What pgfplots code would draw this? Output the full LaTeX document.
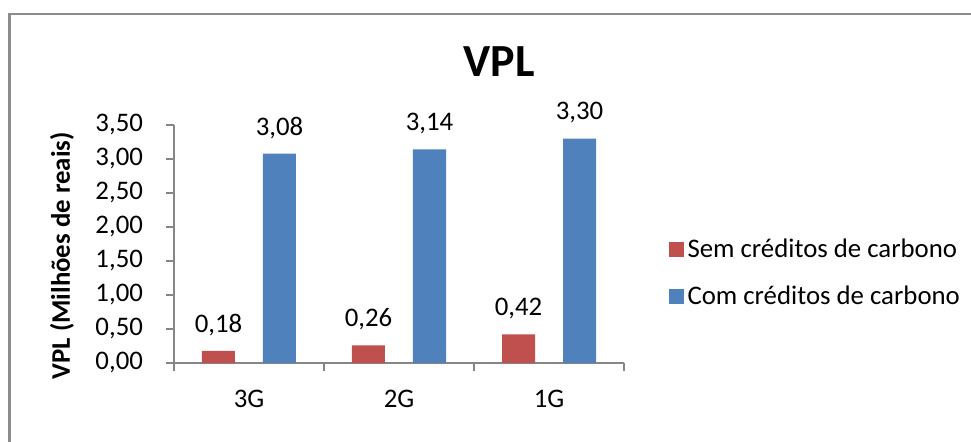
\documentclass[border=0pt]{standalone}
\usepackage{pgfplots}
\pgfplotsset{compat=1.18}
\usepackage{fontspec}
\setmainfont{Carlito}
\definecolor{exred}{HTML}{C0504D}
\definecolor{exblue}{HTML}{4F81BD}
\definecolor{framegray}{HTML}{8C8C8C}
\definecolor{axgray}{HTML}{868686}
\pgfkeys{/pgf/number format/.cd, fixed, fixed zerofill, precision=2, use comma, assume math mode=true}
\newcommand{\bodyfont}{\fontsize{13.4}{16}\selectfont}
\begin{document}
\begin{tikzpicture}
\useasboundingbox (0,0) rectangle (485.5pt,220.5pt);
\clip (0,0) rectangle (485.5pt,220.5pt);
\draw[framegray, line width=1.2pt] (4.75pt,-20pt) -- (4.75pt,213.5pt) -- (500pt,213.5pt);
\node[font=\fontsize{23}{27}\selectfont\bfseries] at (249.5pt,189.5pt) {VPL};
\begin{axis}[
  at={(87pt,39pt)}, anchor=south west,
  scale only axis, width=225pt, height=119pt,
  ybar=14pt, bar width=16.5pt,
  xmin=-0.5, xmax=2.5, ymin=0, ymax=3.5,
  axis x line=bottom, axis y line=left,
  axis line style={draw=axgray, line width=0.7pt, -},
  xtick={-0.5,0.5,1.5,2.5}, xticklabels={3G,2G,1G,{}},
  ytick={0,0.5,1,1.5,2,2.5,3,3.5},
  scaled y ticks=false,
  tick align=outside, major tick length=4pt,
  tick style={draw=axgray, line width=0.7pt},
  ticklabel style={font=\bodyfont},
  xticklabel style={xshift=37.5pt, anchor=center, yshift=-14pt},
  yticklabel style={anchor=east, xshift=-8pt},
  ylabel={VPL (Milhões de reais)},
  ylabel style={font=\bodyfont\bfseries, at={(axis description cs:-0.249,0.45)}, anchor=center},
  nodes near coords,
  nodes near coords style={font=\bodyfont, anchor=center, yshift=13pt, text=black},
  legend style={draw=none, fill=none, at={(axis description cs:1.098,0.378)}, anchor=west,
    font=\bodyfont, row sep=9pt, inner sep=0pt},
  legend cell align=left,
]
\addplot[fill=exred, draw=none, legend image code/.code={\fill[exred] (0pt,-3.75pt) rectangle (7.5pt,3.75pt);}]
  coordinates {(0,0.18) (1,0.26) (2,0.42)};
\addplot[fill=exblue, draw=none, legend image code/.code={\fill[exblue] (0pt,-3.75pt) rectangle (7.5pt,3.75pt);}]
  coordinates {(0,3.08) (1,3.14) (2,3.30)};
\legend{Sem créditos de carbono, Com créditos de carbono}
\end{axis}
\end{tikzpicture}
\end{document}
